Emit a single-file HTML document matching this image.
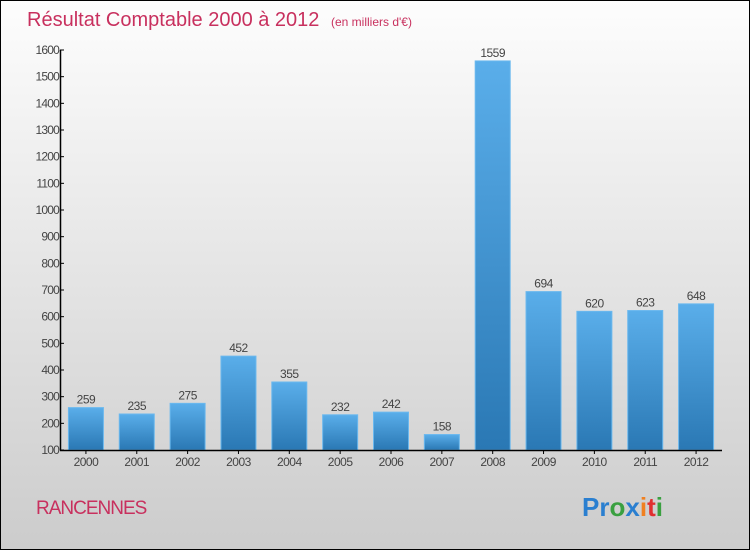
<!DOCTYPE html>
<html><head><meta charset="utf-8"><style>
body{margin:0}
#c{width:750px;height:550px;position:relative;box-sizing:border-box;border:1px solid #000;background:linear-gradient(#fdfdfd,#cccccc);font-family:"Liberation Sans",sans-serif;overflow:hidden}
</style></head><body>
<div id="c">
<svg id="s" width="750" height="550" style="position:absolute;left:-1px;top:-1px">
<defs><linearGradient id="g" x1="0" y1="0" x2="0" y2="1"><stop offset="0" stop-color="#5aaeea"/><stop offset="1" stop-color="#2a78b4"/></linearGradient></defs>
<text x="27" y="26" font-size="20" fill="#c8305e">Résultat Comptable 2000 à 2012 <tspan font-size="12" dx="6">(en milliers d'€)</tspan></text>
<text x="36" y="514" font-size="19" fill="#c8305e" letter-spacing="-1">RANCENNES</text>
<text x="582" y="516" font-size="26" font-weight="bold"><tspan fill="#2a7fd0">Pr</tspan><tspan fill="#3aa040">o</tspan><tspan fill="#2a7fd0">x</tspan><tspan fill="#f08020">i</tspan><tspan fill="#e03030">t</tspan><tspan fill="#3aa040">i</tspan></text>
<g id="plot"></g>
</svg>
</div>
<script>
const categories=["2000","2001","2002","2003","2004","2005","2006","2007","2008","2009","2010","2011","2012"];
const values=[259,235,275,452,355,232,242,158,1559,694,620,623,648];
const yTicks=[100,200,300,400,500,600,700,800,900,1000,1100,1200,1300,1400,1500,1600];
const NS="http://www.w3.org/2000/svg";
const g=document.getElementById('plot');
const x0=61,x1=722,yMin=100,yMax=1600,yb=450,yt=50;
const y=v=>yb-(v-yMin)/(yMax-yMin)*(yb-yt);
const step=(x1-x0)/categories.length;
const xc=i=>x0+step*(i+0.5)-0.5;
function mk(t,a,txt){const e=document.createElementNS(NS,t);for(const k in a)e.setAttribute(k,a[k]);if(txt!==undefined)e.textContent=txt;g.appendChild(e);return e;}
values.forEach((v,i)=>{
 const b=mk('rect',{x:xc(i)-17.5,y:y(v),width:35,height:yb-y(v),fill:'url(#g)',stroke:'#6ab8ee','stroke-width':1});
 
 
 const l=mk('text',{x:xc(i),y:y(v)-4,'font-size':12,'text-anchor':'middle',fill:'#444','letter-spacing':'-0.5'},String(v));
 
 
 const c=mk('text',{x:xc(i),y:466,'font-size':12,'text-anchor':'middle',fill:'#444','letter-spacing':'-0.5'},categories[i]);
 
 
 const t=mk('line',{x1:xc(i),x2:xc(i),y1:450,y2:454,stroke:'#000'});
 
 
});
yTicks.forEach(v=>{
 const t=mk('line',{x1:60,x2:64,y1:y(v),y2:y(v),stroke:'#000'});
 
 
 const l=mk('text',{x:59,y:y(v)+4,'font-size':12,'text-anchor':'end',fill:'#444','letter-spacing':'-0.8'},String(v));
 
 
});
const ya=mk('line',{x1:60.5,x2:60.5,y1:50,y2:450.5,stroke:'#000','stroke-width':1.5});


const xa=mk('line',{x1:60,x2:722,y1:450.5,y2:450.5,stroke:'#000','stroke-width':1.5});


</script>
</body></html>
